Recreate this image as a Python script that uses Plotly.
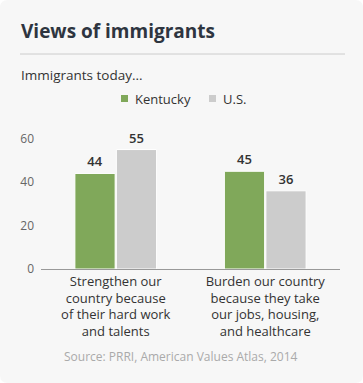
import plotly.graph_objects as go

categories = ["Strengthen our<br>country because<br>of their hard work<br>and talents",
              "Burden our country<br>because they take<br>our jobs, housing,<br>and healthcare"]
kentucky = [44, 45]
us = [55, 36]
series_names = ["Kentucky", "U.S."]
tick_vals = [0, 20, 40, 60]

GREEN = "#80a85a"
GRAY = "#cccccc"
BG = "#f7f7f7"
FONT = "Open Sans"

W, H = 363, 383
L, R, T, B = 41, 23, 130, 114
pw, ph = W - L - R, H - T - B

def px(x):
    return (x - L) / pw

def py(y):
    return (H - B - y) / ph

fig = go.Figure()
for name, vals, col in [(series_names[0], kentucky, GREEN), (series_names[1], us, GRAY)]:
    fig.add_trace(go.Bar(
        x=categories, y=vals, name=name, showlegend=False,
        marker=dict(color=col, line=dict(color="white", width=1)),
        text=vals, textposition="outside", cliponaxis=False,
        textfont=dict(family=FONT, size=13, color="#333333", weight=600),
    ))

# rounded card background
r = 8
x0, x1, y0, y1 = px(0), px(W), py(H), py(0)
rx, ry = r / pw, r / ph
path = (f"M {x0+rx},{y1} L {x1-rx},{y1} Q {x1},{y1} {x1},{y1-ry} "
        f"L {x1},{y0+ry} Q {x1},{y0} {x1-rx},{y0} L {x0+rx},{y0} "
        f"Q {x0},{y0} {x0},{y0+ry} L {x0},{y1-ry} Q {x0},{y1} {x0+rx},{y1} Z")

shapes = [
    dict(type="path", path=path, xref="paper", yref="paper",
         fillcolor=BG, line=dict(width=0), layer="below"),
    dict(type="line", xref="paper", yref="paper",
         x0=px(20), x1=px(345), y0=py(54), y1=py(54),
         line=dict(color="#cccccc", width=1)),
]
annotations = [
    dict(text="<b>Views of immigrants</b>", xref="paper", yref="paper",
         x=px(19), y=py(31), xanchor="left", yanchor="middle", showarrow=False,
         font=dict(family=FONT, size=19, color="#2e3540")),
    dict(text="Immigrants today...", xref="paper", yref="paper",
         x=px(19), y=py(75), xanchor="left", yanchor="middle", showarrow=False,
         font=dict(family=FONT, size=13.5, color="#333333")),
    dict(text="Source: PRRI, American Values Atlas, 2014", xref="paper", yref="paper",
         x=px(181), y=py(356), xanchor="center", yanchor="middle", showarrow=False,
         font=dict(family=FONT, size=12, color="#aaaaaa")),
]

# legend (manual, to match the small square swatches)
legend_items = [(series_names[0], GREEN, 121), (series_names[1], GRAY, 209)]
for name, col, sx in legend_items:
    shapes.append(dict(type="rect", xref="paper", yref="paper",
                       x0=px(sx), x1=px(sx + 7), y0=py(95), y1=py(102),
                       fillcolor=col, line=dict(width=0)))
    annotations.append(dict(text=name, xref="paper", yref="paper",
                            x=px(sx + 12), y=py(98.5), xanchor="left", yanchor="middle",
                            showarrow=False,
                            font=dict(family=FONT, size=13, color="#333333")))

fig.update_layout(
    width=W, height=H,
    margin=dict(l=L, r=R, t=T, b=B),
    paper_bgcolor="white", plot_bgcolor="rgba(0,0,0,0)",
    barmode="group", bargap=0.445, bargroupgap=0.03,
    font=dict(family=FONT, color="#333333"),
    showlegend=False,
    shapes=shapes,
    annotations=annotations,
    xaxis=dict(showline=True, linecolor="#999999", linewidth=1, ticks="",
               tickfont=dict(family=FONT, size=13, color="#333333"), fixedrange=True),
    yaxis=dict(range=[0, 64], tickvals=tick_vals, showgrid=False, zeroline=False,
               showline=False, ticks="", ticklabelstandoff=6,
               tickfont=dict(family=FONT, size=12, color="#666666")),
)

fig.write_html("out.html", config={"displayModeBar": False},
               post_script="document.body.style.margin='0';document.body.style.padding='0';")
